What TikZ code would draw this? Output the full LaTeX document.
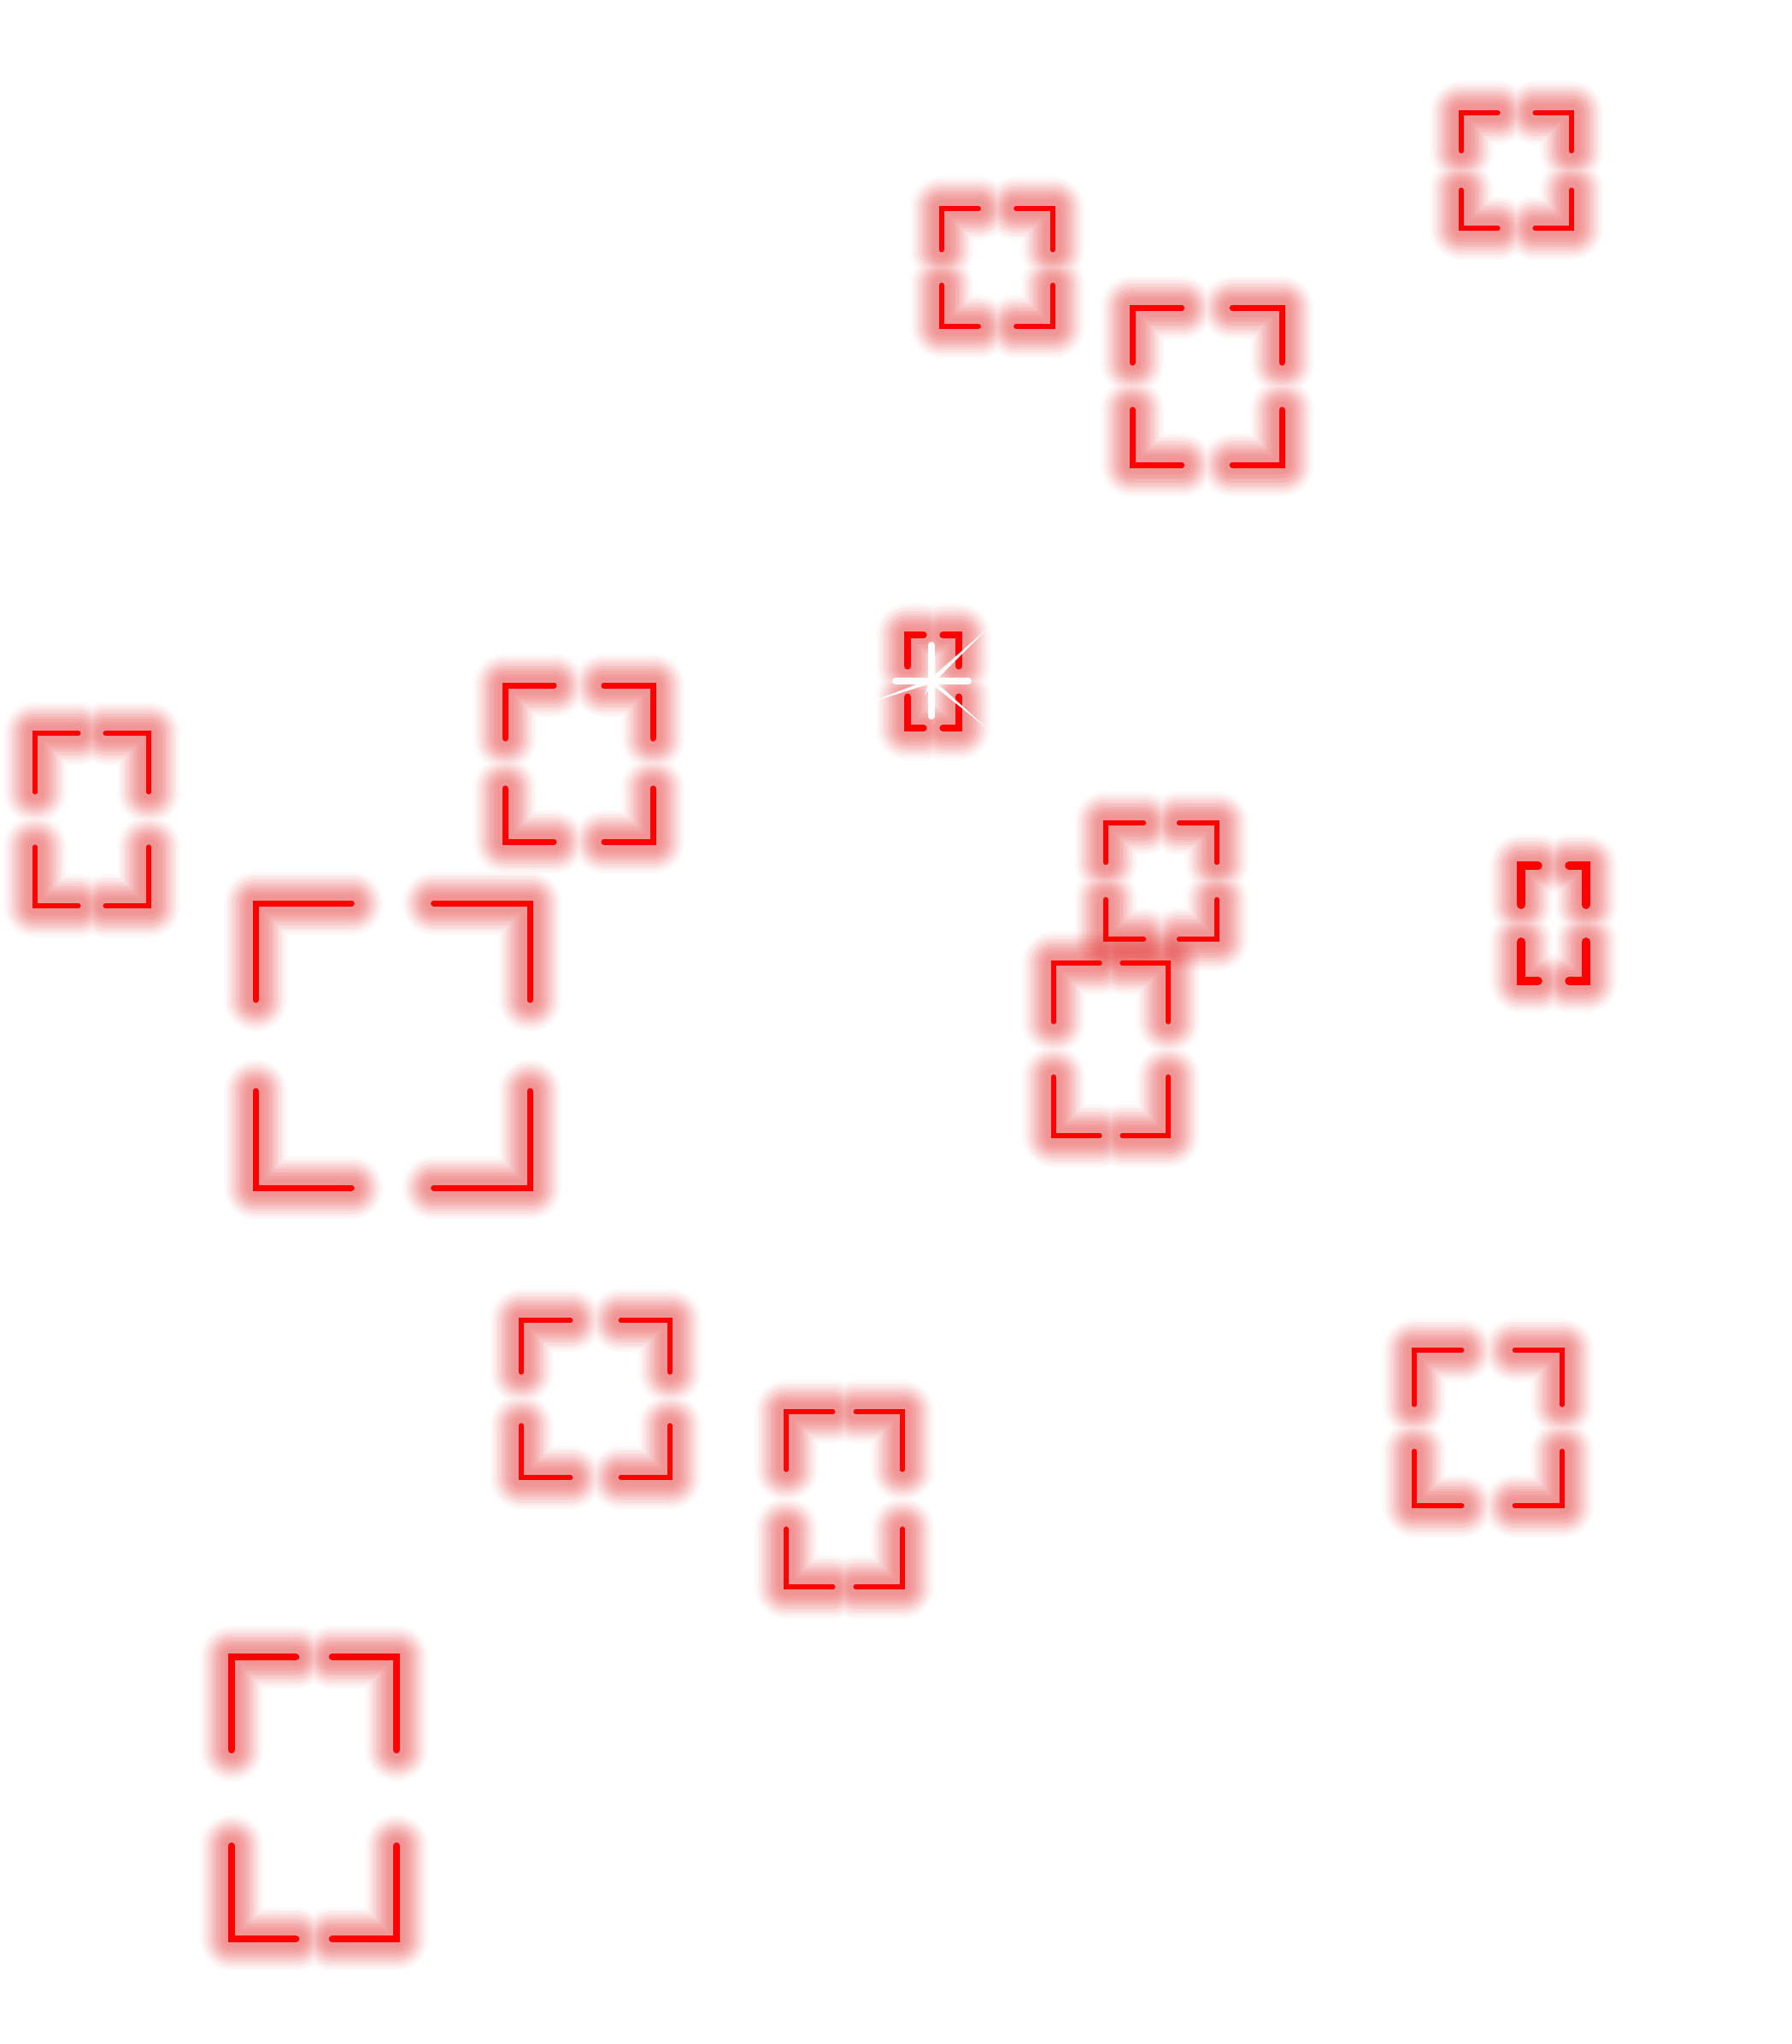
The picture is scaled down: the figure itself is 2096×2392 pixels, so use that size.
\documentclass[tikz,border=0pt]{standalone}
\definecolor{glowred}{RGB}{228,0,0}
\definecolor{retred}{RGB}{255,0,0}
\tikzset{
  glowline/.style={draw=glowred, line cap=round, line join=round},
  retline/.style={draw=retred, line cap=round, line join=miter},
  sparkbar/.style={draw=white, line width=8pt, line cap=round},
  sparkray/.style={fill=white}
}
\newcommand\retpath[1]{%
  \draw[#1] (\rXa,\rYa+\rAy) -- (\rXa,\rYa) -- (\rXa+\rAx,\rYa)
            (\rXb-\rAx,\rYa) -- (\rXb,\rYa) -- (\rXb,\rYa+\rAy)
            (\rXb,\rYb-\rAy) -- (\rXb,\rYb) -- (\rXb-\rAx,\rYb)
            (\rXa+\rAx,\rYb) -- (\rXa,\rYb) -- (\rXa,\rYb-\rAy);}
\newcommand\reticle[7]{%
  \def\rXa{#1}\def\rYa{#2}\def\rXb{#3}\def\rYb{#4}%
  \pgfmathsetmacro\rAx{(#3-#1)*#5}%
  \pgfmathsetmacro\rAy{(#4-#2)*#6}%
  \retpath{glowline, line width=74pt, opacity=0.025}%
  \retpath{glowline, line width=69pt, opacity=0.03}%
  \retpath{glowline, line width=64pt, opacity=0.035}%
  \retpath{glowline, line width=59pt, opacity=0.04}%
  \retpath{glowline, line width=54pt, opacity=0.045}%
  \retpath{glowline, line width=49pt, opacity=0.05}%
  \retpath{glowline, line width=44pt, opacity=0.05}%
  \retpath{glowline, line width=39pt, opacity=0.05}%
  \retpath{glowline, line width=34pt, opacity=0.05}%
  \retpath{glowline, line width=29pt, opacity=0.045}%
  \retpath{glowline, line width=24pt, opacity=0.04}%
  \retpath{glowline, line width=19pt, opacity=0.03}%
  \retpath{retline, line width=#7pt}}
\begin{document}
\begin{tikzpicture}[x=1pt,y=-1pt]
\useasboundingbox (0,0) rectangle (2096,2392);
\fill[white] (0,0) rectangle (2096,2392);
\reticle{1710}{132}{1839}{267}{.33}{.33}{6}
\reticle{1102}{244}{1232}{382}{.33}{.35}{6}
\reticle{1325}{360}{1500}{544}{.33}{.35}{7}
\reticle{1062}{743}{1122}{852}{.31}{.335}{8}
\reticle{591}{802}{764}{985}{.33}{.34}{7}
\reticle{41}{858}{174}{1060}{.38}{.34}{6}
\reticle{299}{1057}{620}{1390}{.35}{.34}{7}
\reticle{1294}{963}{1424}{1099}{.34}{.34}{6}
\reticle{1233}{1127}{1367}{1329}{.40}{.34}{6}
\reticle{1780}{1013}{1856}{1148}{.26}{.34}{10}
\reticle{610}{1545}{784}{1729}{.33}{.33}{6}
\reticle{920}{1652}{1056}{1857}{.40}{.33}{6}
\reticle{1655}{1580}{1828}{1762}{.32}{.35}{6}
\reticle{271}{1939}{464}{2269}{.39}{.33}{8}
% sparkle
\coordinate (sc) at (1090,797);
\fill[sparkray] (1082,814) -- (1088,795) -- (1157,734) -- (1092,799) -- cycle;
\fill[sparkray] (1088.4,798.9) -- (1157,854) -- (1091.6,795.1) -- cycle;
\fill[sparkray] (1090.9,799.4) -- (1015,823) -- (1089.1,794.6) -- cycle;
\draw[sparkbar] (1048,797) -- (1133,797);
\draw[sparkbar] (1090,755) -- (1090,838);
\end{tikzpicture}
\end{document}
